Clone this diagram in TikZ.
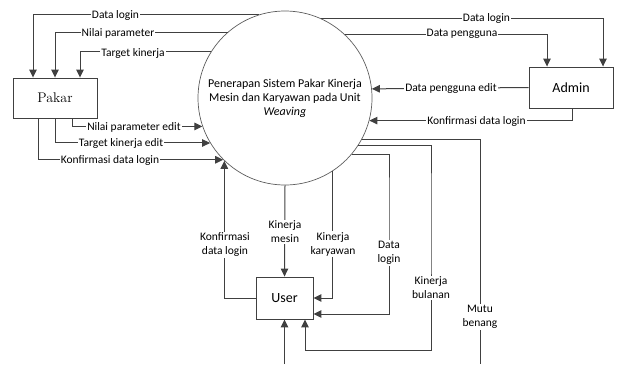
\documentclass[tikz,border=0pt]{standalone}
\usepackage{fontspec}
\setsansfont{Carlito}
\usetikzlibrary{arrows.meta}
\definecolor{ln}{HTML}{404040}
\begin{document}
\begin{tikzpicture}[x=1pt,y=-1pt,font=\sffamily,
  arr/.style={draw=ln,line width=1pt,-{Triangle[length=8pt,width=7.5pt]}},
  plain/.style={draw=ln,line width=1pt},
  box/.style={draw=ln,line width=0.9pt,fill=white,inner sep=0pt},
  lbl/.style={fill=white,inner sep=1pt,font=\sffamily\fontsize{11.5}{14}\selectfont,align=center,text=black}]
\useasboundingbox (0,0) rectangle (617,364);
\node[circle,draw=ln!85,line width=0.7pt,minimum size=174pt,inner sep=0pt,align=center,font=\sffamily\fontsize{12}{14}\selectfont] (P) at (285,98)
  {Penerapan Sistem Pakar Kinerja\\Mesin dan Karyawan pada Unit\\\textit{Weaving}};
\node[box,minimum width=84pt,minimum height=40pt,font=\rmfamily\fontsize{14}{16}\selectfont] (Pakar) at (55,98) {Pakar};
\node[box,minimum width=84pt,minimum height=41pt,font=\sffamily\fontsize{14}{16}\selectfont] (Admin) at (571,87.5) {Admin};
\node[box,minimum width=57pt,minimum height=42pt,font=\sffamily\fontsize{14}{16}\selectfont] (User) at (284.5,298) {User};
\coordinate (mb) at (480,364);
\coordinate (ub) at (284.5,364);
% Pakar top
\draw[arr] (P.107.4) -| ([xshift=-22pt]Pakar.north);
\draw[arr] (P.131.7) -| (Pakar.north);
\draw[arr] (P.148.9) -| ([xshift=25pt]Pakar.north);
% Admin top
\draw[arr] (P.66.9) -| ([xshift=32pt]Admin.north);
\draw[arr] (P.47.4) -| ([xshift=-24pt]Admin.north);
% Admin to circle
\draw[arr] (Admin.west) -- (P.6.9);
\draw[arr] ([xshift=1pt]Admin.south) |- (P.-15.3);
% Pakar bottom
\draw[arr] ([xshift=17pt]Pakar.south) |- (P.199.5);
\draw[arr] (Pakar.south) |- (P.211.1);
\draw[arr] ([xshift=-17pt]Pakar.south) |- (P.225.4);
% User
\draw[arr] (User.west) -| (P.226.4);
\draw[arr] (P.south) -- (User.north);
\draw[arr] (P.303.5) |- (User.east);
\draw[arr] (P.-40.1) -| (389,200) |- ([yshift=-16pt]User.east);
\draw[arr] (P.-33.5) -| (431,200) |- (305,350) -- ([xshift=20.5pt]User.south);
\draw[plain] (P.-28.9) -| (mb);
\draw[arr] (ub) -- (User.south);
% labels
\node[lbl] (l1) at (115.5,15) {Data login};
\node[lbl] (l2) at (118,33) {Nilai parameter};
\node[lbl] (l3) at (133,53) {Target kinerja};
\node[lbl] (l4) at (486.5,18) {Data login};
\node[lbl] (l5) at (462,34) {Data pengguna};
\node[lbl] (l6) at (451,88) {Data pengguna edit};
\node[lbl] (l7) at (476.5,121) {Konfirmasi data login};
\node[lbl] (l8) at (134,127) {Nilai parameter edit};
\node[lbl] (l9) at (121,143) {Target kinerja edit};
\node[lbl] (l10) at (110,160) {Konfirmasi data login};
\node[lbl] (l11) at (225,245) {Konfirmasi\\data login};
\node[lbl] (l12) at (285,232) {Kinerja\\mesin};
\node[lbl] (l13) at (333,244) {Kinerja\\karyawan};
\node[lbl] (l14) at (389,253) {Data\\login};
\node[lbl] (l15) at (431,288) {Kinerja\\bulanan};
\node[lbl] (l16) at (480,317) {Mutu\\benang};
\end{tikzpicture}
\end{document}
